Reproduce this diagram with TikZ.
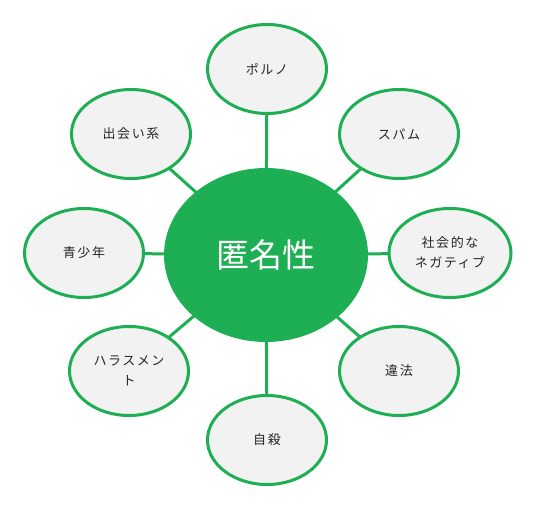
\documentclass[tikz,border=0pt]{standalone}
\usepackage{fontspec}
\setmainfont{Noto Sans CJK JP}
\usetikzlibrary{shapes.geometric,backgrounds}
\definecolor{gr}{HTML}{1EAF55}
\definecolor{lg}{HTML}{F2F2F2}
\tikzset{
  sat/.style={ellipse, draw=gr, fill=lg, line width=3pt, minimum width=119pt, minimum height=89pt, inner sep=0pt, align=center, font=\fontsize{13}{20}\selectfont\addfontfeature{LetterSpace=12}, text=black!85},
  hub/.style={ellipse, fill=gr, minimum width=204pt, minimum height=174pt, inner sep=0pt, text=white, font=\fontsize{33}{38}\selectfont},
  conn/.style={draw=gr, line width=3pt}
}
\begin{document}
\begin{tikzpicture}[x=1pt,y=-1pt]
\useasboundingbox (0,0) rectangle (536,514);
\node[hub] (hub) at (266,255) {匿名性};
\node[sat] (porno) at (267,69) {ポルノ};
\node[sat] (spam) at (399,134) {スパム};
\node[sat, minimum width=122pt] (neg) at (450,253) {社会的な\\ネガティブ};
\node[sat] (ihou) at (399,371) {違法};
\node[sat] (jisatsu) at (267,440) {自殺};
\node[sat] (hara) at (129,371) {ハラスメン\\ト};
\node[sat] (youth) at (84,253) {青少年};
\node[sat] (deai) at (131,134) {出会い系};
\begin{pgfonlayer}{background}
\foreach \n in {porno,spam,neg,ihou,jisatsu,hara,youth,deai}{
  \path[conn] (hub.center) -- (\n.center);
}
\end{pgfonlayer}
\end{tikzpicture}
\end{document}
